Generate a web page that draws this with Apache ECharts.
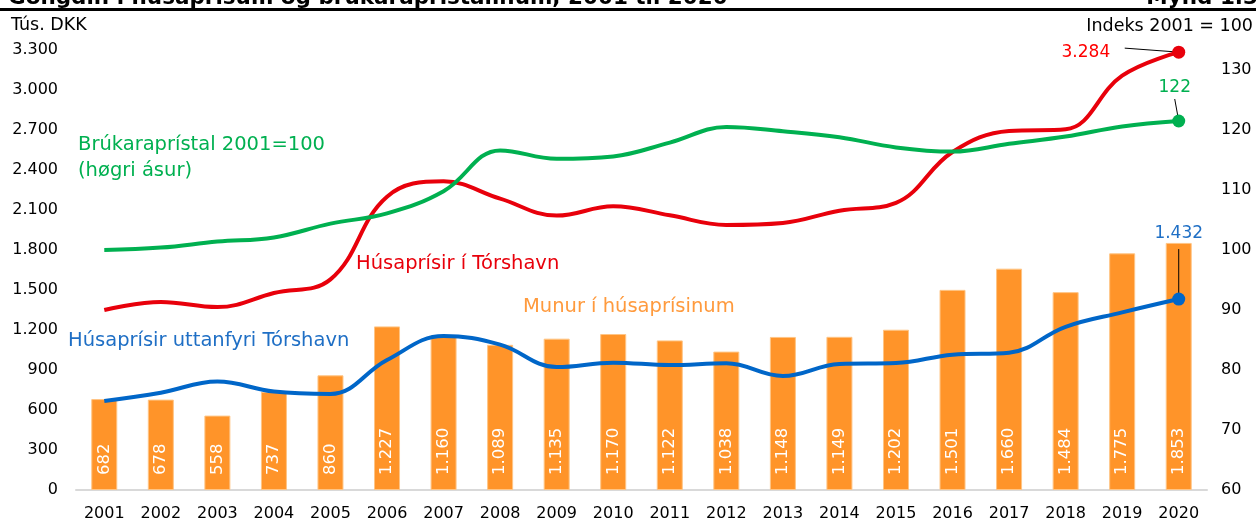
<!DOCTYPE html>
<html>
<head>
<meta charset="utf-8">
<script src="https://cdn.jsdelivr.net/npm/echarts@6/dist/echarts.min.js"></script>
<style>
  html, body { margin: 0; padding: 0; background: #fff; }
  #chart { width: 1256px; height: 523px; }
</style>
</head>
<body>
<div id="chart"></div>
<script>
// Years on the x axis
const years = ['2001', '2002', '2003', '2004', '2005', '2006', '2007', '2008', '2009', '2010',
    '2011', '2012', '2013', '2014', '2015', '2016', '2017', '2018', '2019', '2020'];

// Munur í húsaprísinum (tús. DKK, left axis)
const priceGap = [682, 678, 558, 737, 860, 1227, 1160, 1089, 1135, 1170,
    1122, 1038, 1148, 1149, 1202, 1501, 1660, 1484, 1775, 1853];

// Húsaprísir í Tórshavn (tús. DKK, left axis)
const torshavn = [1350, 1410, 1372, 1477, 1580, 2200, 2315, 2185, 2058, 2128,
    2060, 1988, 2003, 2095, 2154, 2535, 2692, 2705, 3108, 3284];

// Húsaprísir uttanfyri Tórshavn (tús. DKK, left axis)
const outside = [668, 730, 813, 738, 720, 975, 1155, 1090, 922, 955,
    937, 950, 855, 945, 952, 1015, 1030, 1224, 1332, 1432];

// Brúkaraprístal 2001=100 (right axis)
const cpi = [100, 100.4, 101.4, 102.1, 104.4, 106.1, 109.8, 116.6, 115.2, 115.6,
    117.9, 120.5, 119.8, 118.8, 117.1, 116.4, 117.7, 118.9, 120.6, 121.5];

const FONT = 'DejaVu Sans';
const fmt = v => String(Math.round(v)).replace(/\B(?=(\d{3})+(?!\d))/g, '.');

// only the last point of each line gets a marker and a label
function withEndPoint(values, color, labelCfg) {
    return values.map((v, i) => {
        if (i !== values.length - 1) return v;
        return {
            value: v,
            symbol: 'circle',
            symbolSize: 13,
            itemStyle: { color: color },
            label: Object.assign({
                show: true,
                color: color,
                fontFamily: FONT,
                fontSize: 17,
                formatter: p => fmt(p.value)
            }, labelCfg)
        };
    });
}

const chart = echarts.init(document.getElementById('chart'));

chart.setOption({
    animation: false,
    textStyle: { fontFamily: FONT },
    grid: { left: 76, right: 49, top: 50, bottom: 33 },
    graphic: [
        { id: 'title', type: 'text', x: 8, y: 9, style: { text: 'Gongdin í húsaprísum og brúkaraprístalinum, 2001 til 2020', font: 'bold 21.5px "DejaVu Sans"', fill: '#000', verticalAlign: 'bottom' } },
        { id: 'fig', type: 'text', x: 1258, y: 9, style: { text: 'Mynd 1.3', font: 'bold 21.5px "DejaVu Sans"', fill: '#000', align: 'right', verticalAlign: 'bottom' } },
        { id: 'rule', type: 'rect', shape: { x: 0, y: 8, width: 1256, height: 3 }, style: { fill: '#000' } },
        { id: 'unitL', type: 'text', left: 11, top: 16, style: { text: 'Tús. DKK', font: '17.5px "DejaVu Sans"', fill: '#000' } },
        { id: 'unitR', type: 'text', right: 3, top: 17, style: { text: 'Indeks 2001 = 100', font: '17.5px "DejaVu Sans"', fill: '#000' } },
        { id: 'nGreen', type: 'text', left: 78, top: 132, style: { text: 'Brúkaraprístal 2001=100\n(høgri ásur)', font: '19.5px "DejaVu Sans"', fill: '#00B050', lineHeight: 26 } },
        { id: 'nRed', type: 'text', left: 356, top: 254, style: { text: 'Húsaprísir í Tórshavn', font: '19.5px "DejaVu Sans"', fill: '#E8000B' } },
        { id: 'nOrange', type: 'text', left: 523, top: 297, style: { text: 'Munur í húsaprísinum', font: '19.5px "DejaVu Sans"', fill: '#FF9A3D' } },
        { id: 'nBlue', type: 'text', left: 68, top: 331, style: { text: 'Húsaprísir uttanfyri Tórshavn', font: '19.5px "DejaVu Sans"', fill: '#1F6FC5' } }
    ],
    xAxis: {
        type: 'category',
        data: years,
        axisLine: { lineStyle: { color: '#D9D9D9', width: 2 } },
        axisTick: { show: false },
        axisLabel: { color: '#000', fontSize: 16, margin: 16 }
    },
    yAxis: [
        {
            type: 'value',
            min: 0, max: 3300, interval: 300,
            splitLine: { show: false },
            axisLine: { show: false },
            axisTick: { show: false },
            axisLabel: { color: '#000', fontSize: 16, margin: 18, formatter: v => fmt(v) }
        },
        {
            type: 'value',
            min: 60, max: 60 + 440 / 6, interval: 10,
            splitLine: { show: false },
            axisLine: { show: false },
            axisTick: { show: false },
            axisLabel: { color: '#000', fontSize: 16, margin: 14, showMaxLabel: false, formatter: v => String(Math.round(v)) }
        }
    ],
    series: [
        {
            name: 'Munur í húsaprísinum',
            type: 'bar',
            data: priceGap,
            barWidth: 26,
            itemStyle: { color: '#FF9429', borderColor: '#FFC585', borderWidth: 1 },
            label: {
                show: true,
                position: 'insideBottom',
                rotate: 90,
                align: 'left',
                verticalAlign: 'middle',
                distance: 15,
                color: '#fff',
                fontSize: 16.5,
                formatter: p => fmt(p.value)
            },
            z: 1
        },
        {
            name: 'Húsaprísir í Tórshavn',
            type: 'line',
            data: withEndPoint(torshavn, '#E8000B', { position: 'left', distance: 62, color: '#FF0000' }),
            symbol: 'none',
            smooth: 0.4,
            lineStyle: { color: '#E8000B', width: 4 },
            z: 3
        },
        {
            name: 'Húsaprísir uttanfyri Tórshavn',
            type: 'line',
            data: withEndPoint(outside, '#0066C8', { position: 'top', distance: 50, color: '#1F6FC5' }),
            symbol: 'none',
            smooth: 0.4,
            lineStyle: { color: '#0066C8', width: 4 },
            z: 3
        },
        {
            name: 'Brúkaraprístal 2001=100',
            type: 'line',
            yAxisIndex: 1,
            data: withEndPoint(cpi, '#00B050', { position: 'top', distance: 18, color: '#00B050', offset: [-4, 0] }),
            symbol: 'none',
            smooth: 0.4,
            lineStyle: { color: '#00B050', width: 4 },
            z: 3
        }
    ]
});

// thin black leader lines from the end labels to their points
const last = years.length - 1;
const pRed = chart.convertToPixel({ gridIndex: 0 }, [last, torshavn[last]]);
const pBlue = chart.convertToPixel({ gridIndex: 0 }, [last, outside[last]]);
const pGreen = chart.convertToPixel({ xAxisIndex: 0, yAxisIndex: 1 }, [last, cpi[last]]);
const leader = (id, x1, y1, x2, y2) => ({
    id: id, type: 'line', z: 2,
    shape: { x1: x1, y1: y1, x2: x2, y2: y2 },
    style: { stroke: '#000', lineWidth: 1 }
});
chart.setOption({
    graphic: [
        leader('leadRed', pRed[0] - 54, pRed[1] - 4, pRed[0], pRed[1]),
        leader('leadGreen', pGreen[0] - 4, pGreen[1] - 22, pGreen[0], pGreen[1]),
        leader('leadBlue', pBlue[0], pBlue[1] - 50, pBlue[0], pBlue[1])
    ]
});
</script>
</body>
</html>
